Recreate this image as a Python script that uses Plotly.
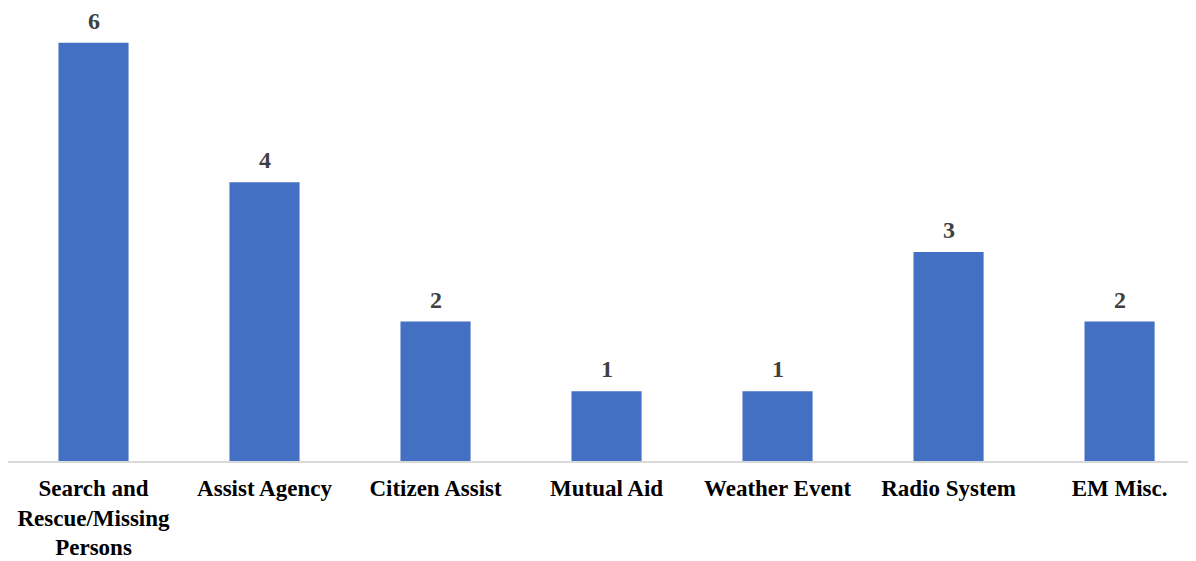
import plotly.graph_objects as go

categories = ["Search and<br>Rescue/Missing<br>Persons", "Assist Agency", "Citizen Assist",
              "Mutual Aid", "Weather Event", "Radio System", "EM Misc."]
values = [6, 4, 2, 1, 1, 3, 2]

fig = go.Figure()
fig.add_trace(go.Bar(
    x=categories, y=values,
    marker=dict(color="#4470c4", line=dict(width=0)),
    hoverinfo="skip",
))

for c, v in zip(categories, values):
    fig.add_annotation(x=c, y=v, text=f"<b>{v}</b>", showarrow=False,
                       yanchor="bottom", yshift=7,
                       font=dict(family="Liberation Serif", size=24, color="#404040"))

fig.update_layout(
    width=1188, height=553,
    margin=dict(l=0, r=0, t=0, b=100),
    paper_bgcolor="white", plot_bgcolor="white",
    bargap=0.59,
    showlegend=False,
    font=dict(family="Liberation Serif", size=23, color="black"),
    xaxis=dict(showline=True, linecolor="#d9d9d9", linewidth=2, ticks="",
               showgrid=False, automargin=False, range=[-0.5, 6.447],
               tickfont=dict(family="Liberation Serif", size=23,
                             color="black", weight="bold"),
               ticklabelstandoff=5),
    yaxis=dict(range=[0, 6.5], visible=False, showgrid=False, zeroline=False,
               automargin=False),
)

fig.write_html("out.html")
